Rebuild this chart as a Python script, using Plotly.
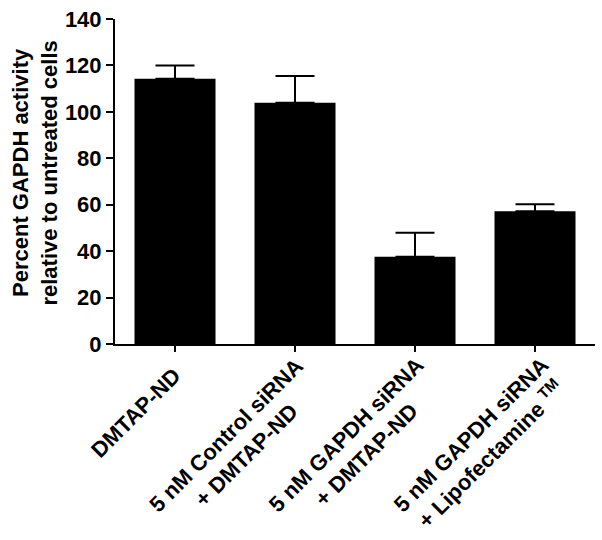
import plotly.graph_objects as go

categories = ["DMTAP-ND",
              "5 nM Control siRNA<br>+ DMTAP-ND",
              "5 nM GAPDH siRNA<br>+ DMTAP-ND",
              "5 nM GAPDH siRNA<br>+ Lipofectamine <sup>TM</sup>"]
values = [114.3, 103.9, 37.6, 57.2]
errors_up = [5.7, 11.5, 10.3, 3.0]
y_title = "Percent GAPDH activity<br>relative to untreated cells"
y_range = [0, 140]
y_dtick = 20

FONT = "Liberation Sans, Arial, sans-serif"

fig = go.Figure()
fig.add_trace(go.Bar(
    x=list(range(len(categories))),
    y=values,
    width=0.675,
    marker=dict(color="black", line=dict(width=0)),
    error_y=dict(type="data", symmetric=False, array=errors_up,
                 arrayminus=[0] * len(values),
                 color="black", thickness=2, width=19.5),
    showlegend=False,
    hoverinfo="skip",
))

annotations = []
for i, lab in enumerate(categories):
    two_line = "<br>" in lab
    annotations.append(dict(
        x=i, xref="x", y=0, yref="paper",
        text="<b>" + lab + "</b>", showarrow=False,
        textangle=-45, align="center",
        xanchor="right", yanchor="top",
        xshift=(37 if two_line else 14) + (5 if i == 3 else 0),
        yshift=-6 if two_line else -16,
        font=dict(family=FONT, size=22, color="black"),
    ))

annotations.append(dict(
    x=-0.167, xref="paper", y=0.527, yref="paper",
    text="<b>" + y_title + "</b>", showarrow=False,
    textangle=-90, align="center",
    xanchor="center", yanchor="middle",
    font=dict(family=FONT, size=22, color="black"),
))

fig.update_layout(
    width=602, height=540,
    margin=dict(l=115, r=7, t=14, b=196),
    paper_bgcolor="white", plot_bgcolor="white",
    font=dict(family=FONT, size=22, color="black"),
    annotations=annotations,
)
fig.update_xaxes(
    range=[-0.5, 3.5], tickmode="array", tickvals=list(range(len(categories))),
    showticklabels=False, showline=True, linecolor="black", linewidth=2,
    ticks="outside", ticklen=6, tickwidth=2, tickcolor="black",
    showgrid=False, zeroline=False,
)
fig.update_yaxes(
    range=y_range, dtick=y_dtick, showline=True, linecolor="black", linewidth=2,
    ticks="outside", ticklen=7, tickwidth=2, tickcolor="black",
    showgrid=False, zeroline=False,
    tickfont=dict(family=FONT, size=22, color="black"),
    tickprefix="<b>", ticksuffix="</b>",
)

fig.write_html("out.html",
               config={"displayModeBar": False},
               post_script="document.body.style.margin='0';document.body.style.padding='0';")
